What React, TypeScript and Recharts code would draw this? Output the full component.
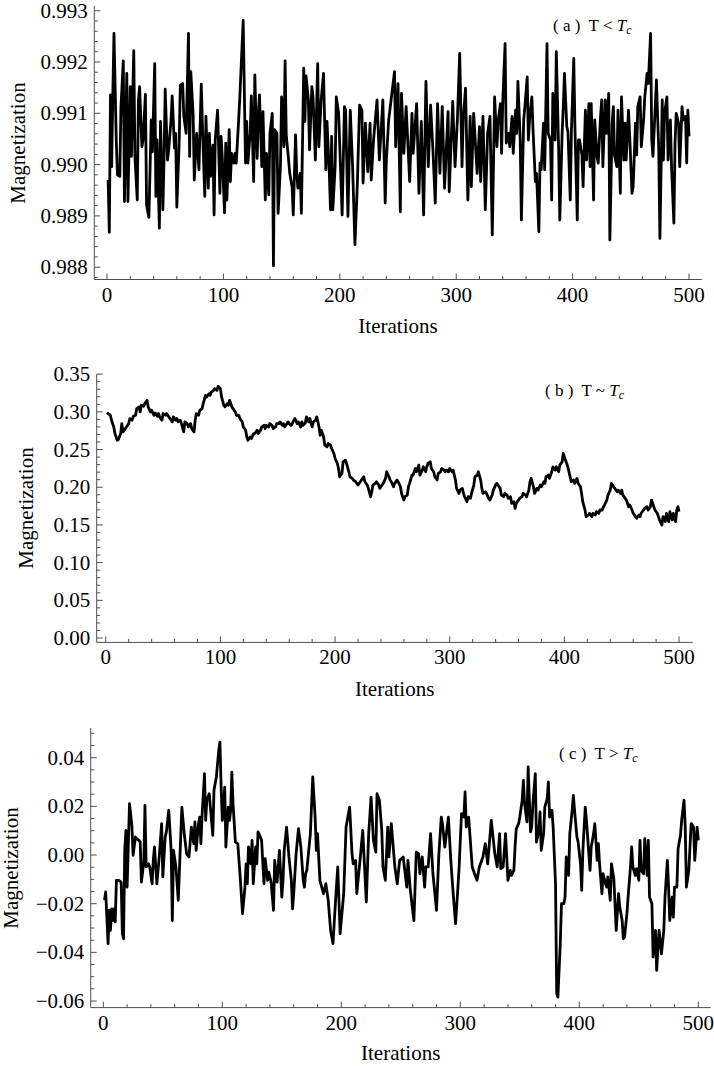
import React from 'react';
import { LineChart, Line, XAxis, YAxis } from 'recharts';

const SERIF = 'Liberation Serif, DejaVu Serif, serif';
const FRAME = '#4d4d4d';

// ---------- axis ticks ----------
const iterationTicks = [0, 20, 40, 60, 80, 100, 120, 140, 160, 180, 200, 220, 240, 260, 280, 300, 320, 340, 360, 380, 400, 420, 440, 460, 480, 500];
const iterationLabels = [0, 100, 200, 300, 400, 500];

const magTicksA = [0.9878, 0.988, 0.9882, 0.9884, 0.9886, 0.9888, 0.989, 0.9892, 0.9894, 0.9896, 0.9898, 0.99, 0.9902, 0.9904, 0.9906, 0.9908, 0.991, 0.9912, 0.9914, 0.9916, 0.9918, 0.992, 0.9922, 0.9924, 0.9926, 0.9928, 0.993];
const magLabelsA = [0.988, 0.989, 0.99, 0.991, 0.992, 0.993];

const magTicksB = [0, 0.01, 0.02, 0.03, 0.04, 0.05, 0.06, 0.07, 0.08, 0.09, 0.1, 0.11, 0.12, 0.13, 0.14, 0.15, 0.16, 0.17, 0.18, 0.19, 0.2, 0.21, 0.22, 0.23, 0.24, 0.25, 0.26, 0.27, 0.28, 0.29, 0.3, 0.31, 0.32, 0.33, 0.34, 0.35];
const magLabelsB = [0, 0.05, 0.1, 0.15, 0.2, 0.25, 0.3, 0.35];

const magTicksC = [-0.06, -0.055, -0.05, -0.045, -0.04, -0.035, -0.03, -0.025, -0.02, -0.015, -0.01, -0.005, 0, 0.005, 0.01, 0.015, 0.02, 0.025, 0.03, 0.035, 0.04, 0.045, 0.05];
const magLabelsC = [-0.06, -0.04, -0.02, 0, 0.02, 0.04];

// ---------- data: [iteration, magnetization] ----------
const panelA: [number, number][] = [
  [1, 0.9897], [2, 0.98868], [3, 0.99136], [4, 0.98996], [5, 0.99136], [6, 0.99256], [8, 0.99045], [9, 0.9898], [11, 0.98977], [12, 0.99113],
  [14, 0.99202], [15, 0.98928], [17, 0.99178], [18, 0.98928], [20, 0.99152], [21, 0.99016], [23, 0.99222], [24, 0.99016], [26, 0.98931], [27, 0.99126],
  [28, 0.99152], [30, 0.99035], [31, 0.99048], [33, 0.99137], [34, 0.98921], [36, 0.98897], [38, 0.99087], [39, 0.99025], [41, 0.99197], [42, 0.98938],
  [43, 0.99048], [45, 0.98876], [46, 0.99084], [48, 0.98912], [49, 0.99009], [50, 0.99147], [52, 0.99009], [53, 0.99029], [55, 0.99087], [56, 0.99134],
  [58, 0.99032], [59, 0.99061], [60, 0.98917], [62, 0.99042], [63, 0.99155], [65, 0.99158], [66, 0.99094], [68, 0.99061], [70, 0.99256], [71, 0.99016],
  [72, 0.99181], [74, 0.99097], [75, 0.9897], [77, 0.99061], [79, 0.9899], [81, 0.99157], [82, 0.99074], [84, 0.98938], [85, 0.99094], [87, 0.98954],
  [88, 0.99061], [89, 0.98977], [91, 0.99038], [92, 0.98902], [93, 0.99048], [95, 0.99106], [97, 0.98944], [98, 0.99055], [99, 0.99016], [101, 0.98906],
  [102, 0.99042], [103, 0.98931], [105, 0.99068], [106, 0.98967], [107, 0.99022], [109, 0.99003], [110, 0.99022], [111, 0.99003], [113, 0.99082], [114, 0.99126],
  [117, 0.99281], [119, 0.99003], [120, 0.99084], [121, 0.99003], [123, 0.99061], [124, 0.99134], [126, 0.98967], [127, 0.99175], [129, 0.99012], [130, 0.99094],
  [131, 0.99136], [133, 0.98996], [134, 0.99103], [136, 0.98931], [137, 0.99022], [139, 0.98941], [140, 0.99061], [142, 0.991], [143, 0.98803], [144, 0.99068],
  [146, 0.99061], [147, 0.98905], [149, 0.98996], [150, 0.99132], [152, 0.99035], [153, 0.99202], [154, 0.99058], [156, 0.99009], [157, 0.98983], [159, 0.98957],
  [160, 0.98902], [162, 0.99058], [163, 0.98983], [164, 0.98954], [166, 0.98983], [167, 0.98905], [169, 0.99188], [170, 0.99084],
  [171, 0.99173], [173, 0.99126], [174, 0.99029], [176, 0.99152], [177, 0.99132], [179, 0.99009], [181, 0.99197], [182, 0.99035], [184, 0.99126], [186, 0.99178],
  [188, 0.9899], [189, 0.99084], [191, 0.98983], [192, 0.98912], [193, 0.99055], [194, 0.98912], [196, 0.98996], [197, 0.99132], [199, 0.991], [202, 0.98902],
  [204, 0.99113], [205, 0.99106], [207, 0.98899], [209, 0.99106], [211, 0.98996], [213, 0.98844], [215, 0.98957], [217, 0.99116], [219, 0.99106], [220, 0.98964],
  [222, 0.99081], [224, 0.98986], [226, 0.99081], [227, 0.9897], [229, 0.99048], [232, 0.99126], [234, 0.99009], [237, 0.99126], [239, 0.98925], [240, 0.99009],
  [242, 0.99087], [243, 0.99106], [247, 0.99181], [248, 0.99035], [250, 0.99158], [252, 0.98908], [253, 0.99139], [255, 0.99022], [257, 0.99113], [260, 0.98967],
  [262, 0.991], [263, 0.99022], [266, 0.99119], [268, 0.98944], [270, 0.99084], [272, 0.98902], [274, 0.99162], [276, 0.98996], [278, 0.99116], [280, 0.99029],
  [282, 0.98925], [284, 0.99119], [286, 0.98983], [288, 0.99113], [290, 0.98954], [293, 0.99103], [294, 0.98947], [297, 0.99123], [299, 0.98996], [301, 0.99087],
  [303, 0.99217], [305, 0.98996], [306, 0.99087], [308, 0.99149], [310, 0.98931], [312, 0.99094], [313, 0.98957], [315, 0.991], [318, 0.98983], [320, 0.99074],
  [321, 0.98967], [323, 0.99094], [325, 0.98912], [327, 0.99061], [329, 0.99094], [331, 0.98863], [333, 0.99132], [335, 0.99035], [336, 0.99084], [338, 0.99119],
  [339, 0.99022], [340, 0.99123], [342, 0.99236], [343, 0.99042], [345, 0.99061],
  [346, 0.99035], [348, 0.99094], [349, 0.99022], [351, 0.99106], [352, 0.99061], [353, 0.99162], [355, 0.99048], [356, 0.98892], [358, 0.99087], [359, 0.99113],
  [361, 0.99171], [362, 0.99048], [363, 0.99087], [365, 0.99132], [366, 0.99068], [368, 0.98967], [369, 0.98983], [371, 0.98869], [372, 0.99003], [373, 0.9899],
  [375, 0.99081], [376, 0.9899], [378, 0.99236], [379, 0.99061], [381, 0.99048], [382, 0.98931], [383, 0.99139], [385, 0.99048], [386, 0.9922], [388, 0.99029],
  [389, 0.98892], [391, 0.99061], [392, 0.99113], [393, 0.99178], [395, 0.99074], [396, 0.99064], [398, 0.98931], [399, 0.99068], [401, 0.99207], [402, 0.99074],
  [404, 0.98892], [405, 0.99048], [406, 0.99048], [408, 0.99019], [409, 0.98957], [411, 0.99106], [412, 0.99009], [414, 0.99119], [415, 0.98996], [416, 0.99119],
  [418, 0.98931], [419, 0.99087], [421, 0.99016], [422, 0.99003], [424, 0.99094], [425, 0.99126], [426, 0.98996], [428, 0.99126], [429, 0.99061], [431, 0.99139],
  [432, 0.98853], [434, 0.99081], [435, 0.99113], [436, 0.99019], [438, 0.98996], [439, 0.99106], [441, 0.98944], [442, 0.99132], [444, 0.99009], [445, 0.99081],
  [446, 0.99009], [448, 0.99106], [449, 0.99058], [451, 0.98944], [452, 0.98957], [454, 0.99081], [455, 0.99019], [456, 0.99113], [458, 0.99132], [459, 0.99035],
  [461, 0.99087], [462, 0.99132], [464, 0.99178], [465, 0.99158], [467, 0.99256], [468, 0.99048], [469, 0.99016], [471, 0.99113], [472, 0.99165], [474, 0.99029],
  [475, 0.98856], [477, 0.99126], [478, 0.99009], [479, 0.991], [481, 0.99132], [482, 0.99009], [484, 0.99087], [485, 0.98996], [487, 0.98886], [488, 0.99042],
  [489, 0.991], [491, 0.99081], [492, 0.98996], [494, 0.99113], [495, 0.99087], [497, 0.99094], [498, 0.99003], [499, 0.99106], [500, 0.99055],
];

const panelB: [number, number][] = [
  [1, 0.2986], [2, 0.2977], [4, 0.2955], [5, 0.2889], [7, 0.28], [8, 0.2712], [10, 0.2624], [11, 0.2633], [13, 0.2712], [14, 0.2844],
  [15, 0.2734], [17, 0.2778], [18, 0.28], [20, 0.2844], [21, 0.2911], [23, 0.2889], [24, 0.2941], [26, 0.2955], [27, 0.3043], [29, 0.3065],
  [30, 0.2999], [31, 0.3087], [33, 0.3074], [34, 0.3109], [36, 0.3153], [37, 0.3065], [39, 0.2999], [40, 0.3021], [42, 0.2955], [43, 0.2986],
  [45, 0.2941], [46, 0.2977], [47, 0.2933], [49, 0.2889], [50, 0.2977], [52, 0.2955], [53, 0.2977], [55, 0.2933], [56, 0.2911], [58, 0.2867],
  [59, 0.2933], [61, 0.2889], [62, 0.2911], [63, 0.2867], [65, 0.2889], [66, 0.2844], [68, 0.2734], [69, 0.2867], [71, 0.2844], [72, 0.28],
  [74, 0.2844], [75, 0.2778], [77, 0.2734], [78, 0.2889], [79, 0.2977], [81, 0.2955], [82, 0.3021], [84, 0.3043], [85, 0.3109], [87, 0.3219],
  [88, 0.3197], [90, 0.3241], [91, 0.3219], [92, 0.3263], [94, 0.3285], [95, 0.3308], [97, 0.3285], [98, 0.3338], [100, 0.3308], [101, 0.3197],
  [103, 0.3087], [104, 0.3065], [106, 0.3109], [107, 0.3087], [108, 0.3153], [110, 0.3065], [111, 0.3043], [113, 0.2999], [114, 0.2955], [116, 0.2955],
  [117, 0.2911], [119, 0.2867], [120, 0.28], [122, 0.2756], [123, 0.2668], [124, 0.2624], [126, 0.2668], [127, 0.2646], [129, 0.2712], [130, 0.2712],
  [132, 0.2756], [133, 0.2712], [135, 0.2756], [136, 0.28], [138, 0.2822], [139, 0.2778], [140, 0.2822], [142, 0.28], [143, 0.2844], [145, 0.2822],
  [146, 0.2778], [148, 0.28], [149, 0.2844], [151, 0.2844], [152, 0.2867], [154, 0.2822], [155, 0.2844], [156, 0.28], [158, 0.2844], [159, 0.2867],
  [161, 0.2822], [162, 0.2822], [164, 0.2889], [165, 0.2911], [167, 0.2844], [168, 0.2867], [170, 0.28], [171, 0.2867], [172, 0.2822], [174, 0.2853],
  [175, 0.2933], [177, 0.2867], [178, 0.2911], [180, 0.28], [181, 0.2867], [183, 0.2889], [184, 0.2933], [186, 0.28], [187, 0.269], [188, 0.2756],
  [190, 0.2668], [191, 0.2558], [193, 0.2536], [194, 0.258], [196, 0.2558], [197, 0.2514], [199, 0.2448], [200, 0.2381], [202, 0.2315], [203, 0.2249],
  [204, 0.2139], [206, 0.2183], [207, 0.2337], [209, 0.2359], [210, 0.2315], [212, 0.2205], [213, 0.2139], [215, 0.2117], [216, 0.2095], [218, 0.2073],
  [219, 0.2051], [220, 0.2029], [222, 0.2073], [223, 0.2095], [225, 0.2139], [226, 0.2073], [228, 0.2029], [229, 0.1985], [231, 0.1874], [232, 0.194],
  [233, 0.2029], [235, 0.2051], [236, 0.2073], [238, 0.2029], [239, 0.1985], [241, 0.2029], [242, 0.2051], [244, 0.2117], [245, 0.2205], [247, 0.2139],
  [248, 0.2095], [249, 0.2073], [251, 0.2007], [252, 0.2051], [254, 0.2095], [255, 0.2073], [257, 0.2007], [258, 0.1918], [260, 0.183], [261, 0.1874],
  [263, 0.1896], [264, 0.2007], [265, 0.2051], [267, 0.2161], [268, 0.2161], [270, 0.2249], [271, 0.2205], [273, 0.2293], [274, 0.2161], [276, 0.2227],
  [277, 0.2271], [279, 0.2205], [280, 0.2271], [281, 0.2315], [283, 0.2337], [284, 0.2249], [286, 0.2205], [287, 0.2139], [289, 0.2095], [290, 0.2183],
  [292, 0.2205], [293, 0.2249], [295, 0.2227], [296, 0.2205], [297, 0.2227], [299, 0.2205], [300, 0.2249], [302, 0.2205], [303, 0.2227], [305, 0.2095],
  [306, 0.1985], [308, 0.1918], [309, 0.1962], [311, 0.1985], [312, 0.1918], [313, 0.1874], [315, 0.1808], [316, 0.1874], [318, 0.1852], [319, 0.1918],
  [321, 0.2029], [322, 0.2139], [324, 0.2161], [325, 0.2205], [327, 0.2095], [328, 0.1985], [329, 0.1918], [331, 0.194], [332, 0.1918], [334, 0.1852],
  [335, 0.183], [337, 0.1896], [338, 0.1962], [340, 0.2029], [341, 0.2051], [343, 0.2007], [344, 0.1985], [345, 0.1896], [347, 0.1874], [348, 0.1918],
  [350, 0.1896], [351, 0.1852], [353, 0.1874],
  [354, 0.1786], [356, 0.1808], [357, 0.172], [358, 0.1786], [360, 0.183], [361, 0.1852], [363, 0.1874], [364, 0.1918], [366, 0.1896], [367, 0.1874],
  [369, 0.1962], [370, 0.2073], [371, 0.2117], [373, 0.2007], [374, 0.1918], [376, 0.1985], [377, 0.1962], [379, 0.2029], [380, 0.2007], [382, 0.2073],
  [383, 0.2051], [384, 0.2139], [386, 0.2161], [387, 0.2117], [389, 0.2205], [390, 0.2271], [392, 0.2227], [393, 0.2271], [395, 0.2205], [396, 0.2293],
  [398, 0.2337], [399, 0.2448], [400, 0.2403], [402, 0.2315], [403, 0.2271], [405, 0.2139], [406, 0.2073], [408, 0.2095], [409, 0.2051], [411, 0.2117],
  [412, 0.2051], [414, 0.2007], [415, 0.1918], [416, 0.1808], [418, 0.1698], [419, 0.161], [421, 0.1632], [422, 0.1654], [424, 0.161], [425, 0.1654],
  [427, 0.1632], [428, 0.1676], [430, 0.1654], [431, 0.1698], [433, 0.1698], [434, 0.1742], [435, 0.1764], [437, 0.183], [438, 0.1896], [440, 0.1962],
  [441, 0.2051], [443, 0.2007], [444, 0.1985], [446, 0.194], [447, 0.1962], [449, 0.1918], [450, 0.1962], [451, 0.1896], [453, 0.1852], [454, 0.183],
  [456, 0.1742], [457, 0.1764], [459, 0.1698], [460, 0.1654], [462, 0.161], [463, 0.1588], [465, 0.1632], [466, 0.161], [467, 0.1654], [469, 0.1698],
  [470, 0.172], [472, 0.1742], [473, 0.1698], [475, 0.1742], [476, 0.183], [478, 0.1742], [479, 0.1698], [481, 0.1654], [482, 0.161], [483, 0.1566],
  [485, 0.1499], [486, 0.161], [488, 0.1544], [489, 0.1654], [491, 0.1544], [492, 0.1676], [494, 0.1566], [495, 0.1654], [497, 0.1544], [498, 0.1698],
  [499, 0.1742], [500, 0.1676],
];

const panelC: [number, number][] = [
  [1, -0.0186], [2, -0.0152], [4, -0.0364], [5, -0.0227], [6, -0.031], [7, -0.0221], [8, -0.0269], [9, -0.0221], [10, -0.0275], [11, -0.0104],
  [13, -0.0104], [15, -0.0111], [16, -0.0323], [17, -0.0344], [18, 0.0019], [19, 0.0101], [20, -0.0132], [22, 0.0211], [24, 0.0122], [25, -0.0001],
  [27, 0.0074], [28, 0.0067], [30, 0.006], [31, 0.0053], [32, -0.0111], [34, -0.0029], [35, 0.0204], [36, -0.0049], [38, -0.0036], [39, -0.0049],
  [41, -0.0118], [42, -0.0022], [43, 0.0033], [45, -0.0118], [47, -0.0008], [49, 0.0129], [50, -0.009], [52, 0.0074], [53, 0.0095], [55, 0.0184],
  [57, 0.0019], [58, -0.0269], [59, 0.0019], [61, -0.0049], [63, -0.0186], [66, 0.0197], [68, 0.0088], [70, 0.0005], [72, -0.0008], [74, 0.0115],
  [76, 0.0047], [77, 0.0136], [78, 0.0019], [80, 0.0129], [81, 0.0156], [82, 0.0047], [83, 0.0163], [85, 0.0334], [86, 0.0142], [87, 0.0225],
  [89, 0.0252], [92, 0.0081], [93, 0.0266], [95, 0.0321], [97, 0.043], [98, 0.0464], [99, 0.0279], [100, 0.0142], [102, 0.0279], [103, 0.0033],
  [105, 0.0197], [106, 0.0142], [107, 0.0184], [108, 0.0341], [109, 0.0211], [111, 0.0053], [113, 0.0047], [115, -0.009], [117, -0.0241], [119, -0.0132],
  [120, -0.0036], [121, -0.0118], [122, 0.0033], [124, -0.0036], [125, 0.006], [126, -0.0118], [128, 0.0033], [129, -0.0036], [130, 0.0095], [132, 0.0074],
  [133, 0.006], [135, -0.0118], [136, -0.0015], [138, -0.0104], [139, -0.007], [141, -0.0111], [143, -0.0227], [144, -0.0022], [146, -0.0111], [148, 0.0019],
  [150, -0.0173], [151, -0.0104], [152, 0.0019], [154, 0.0115], [156, -0.0008], [158, -0.0104], [159, -0.0221], [160, -0.0159], [162, 0.0005], [164, 0.0108],
  [166, 0.0033], [168, -0.0104], [169, -0.0132],
  [170, -0.0077], [171, -0.0063], [174, 0.0088], [176, 0.0321], [178, 0.0156], [179, 0.0019], [180, 0.0088], [182, -0.0104], [185, -0.0159], [187, -0.0118],
  [189, -0.0186], [191, -0.031], [193, -0.0364], [195, -0.02], [197, -0.0049], [199, -0.0323], [202, -0.0159], [204, 0.0115], [207, 0.0197], [209, 0.0005],
  [210, -0.0036], [212, -0.0022], [213, -0.0159], [216, -0.0008], [218, 0.0101], [221, -0.0193], [223, 0.0088], [225, 0.0238], [227, 0.006], [229, 0.0012],
  [230, 0.0252], [232, 0.0225], [234, 0.0101], [235, -0.0049], [237, -0.0104], [239, 0.0115], [240, -0.0008], [242, 0.0129], [245, -0.0049], [247, -0.0118],
  [249, -0.0022], [252, -0.0008], [255, -0.0132], [256, -0.0022], [258, -0.0145], [261, -0.0269], [263, 0.0012], [265, 0.0005], [266, -0.0077], [268, -0.0008],
  [270, -0.0132], [271, -0.0049], [273, -0.0049], [275, 0.0088], [277, -0.0077], [280, -0.0227], [282, 0.0005], [284, 0.0156], [285, 0.0129], [287, 0.0033],
  [290, 0.0156], [292, -0.0022], [294, -0.0159], [296, -0.0282], [298, -0.0132], [299, -0.0049], [301, 0.017], [303, 0.0156], [304, 0.0259], [305, 0.0115],
  [307, 0.0156], [310, -0.0049], [312, -0.0077], [314, -0.0104], [316, -0.0049], [319, -0.0008], [321, 0.0047], [323, -0.0036], [326, 0.0142], [329, 0.0005],
  [331, -0.0049], [333, 0.0088], [334, -0.0056], [336, -0.0049], [338, 0.0088], [340, -0.0104],
  [342, -0.0063], [343, -0.0084], [345, -0.0063], [346, 0.0033], [347, 0.0108], [349, 0.0129], [350, 0.0156], [352, 0.0225], [353, 0.0307], [354, 0.0211],
  [356, 0.0136], [357, 0.0362], [359, 0.0095], [360, 0.0115], [361, 0.0211], [363, 0.0334], [364, 0.0053], [366, 0.0101], [367, 0.0177], [368, 0.0019],
  [370, 0.0088], [371, 0.0197], [373, 0.0232], [374, 0.03], [375, 0.0156], [377, 0.0184], [378, 0.0115], [380, -0.0118], [381, -0.057], [382, -0.0584],
  [384, -0.0364], [385, -0.02], [387, -0.02], [388, -0.0173], [389, -0.0008], [391, -0.0084], [392, 0.0088], [394, 0.0184], [395, 0.0245], [396, 0.0184],
  [398, 0.0074], [399, 0.0053], [401, -0.0036], [402, -0.0145], [403, 0.0019], [405, 0.0197], [406, 0.0142], [408, 0.0005], [409, -0.0063], [410, 0.0033],
  [412, 0.0088], [413, 0.0129], [415, -0.0022], [416, 0.0047], [417, -0.0036], [419, -0.0159], [420, -0.0077], [422, -0.0118], [423, -0.0132], [424, -0.009],
  [426, -0.0186], [427, -0.0036], [429, -0.0097], [430, -0.02], [431, -0.031], [433, -0.0159], [434, -0.0214], [436, -0.0269], [437, -0.0344], [438, -0.0337],
  [440, -0.0241], [441, -0.0173], [443, -0.0049], [444, 0.0033], [445, -0.0049], [447, -0.0084], [448, -0.0056], [450, -0.0104], [451, 0.006], [452, -0.0063],
  [454, -0.0077], [455, 0.0067], [457, -0.0084], [458, 0.006], [459, -0.0173], [461, -0.02], [462, -0.0419], [464, -0.031], [465, -0.0474], [467, -0.031],
  [468, -0.0351], [469, -0.0406], [471, -0.031], [472, -0.0173], [474, -0.0022], [475, -0.0132], [476, -0.0269], [478, -0.0173], [479, -0.0255], [480, -0.0132],
  [482, -0.0132], [483, 0.0026], [485, 0.0081], [486, 0.0142], [488, 0.0225], [489, 0.0115], [490, -0.0132], [492, -0.0063], [493, 0.0033], [494, 0.0129],
  [496, 0.0115], [497, -0.0022], [499, 0.0115], [500, 0.006],
];

// ---------- tick renderers (inward ticks like a framed plot) ----------
const MAJOR = 6;
const MINOR = 3.5;
const isMajor = (v: number, list: number[]) => list.some((m) => Math.abs(m - v) < 1e-7);

const fmtA = (v: number) => v.toFixed(3);
const fmtB = (v: number) => v.toFixed(2);
const fmtC = (v: number) => (v < -1e-9 ? '\u2212' : '') + Math.abs(v).toFixed(2);

const textStyle = { fontFamily: SERIF };

function makeBottomTick(labels: number[]) {
  return (props: any) => {
    const { x, y, payload } = props;
    const major = isMajor(payload.value, labels);
    return (
      <g>
        <line x1={x} y1={y} x2={x} y2={y - (major ? MAJOR : MINOR)} stroke={FRAME} strokeWidth={1} />
        {major && (
          <text x={x} y={y + 22} textAnchor="middle" fontSize={21} fontFamily={SERIF} style={textStyle} fill="#000">
            {String(payload.value)}
          </text>
        )}
      </g>
    );
  };
}
function makeTopTick(labels: number[]) {
  return (props: any) => {
    const { x, y, payload } = props;
    const major = isMajor(payload.value, labels);
    return <line x1={x} y1={y} x2={x} y2={y + (major ? MAJOR : MINOR)} stroke={FRAME} strokeWidth={1} />;
  };
}
function makeLeftTick(labels: number[], fmt: (v: number) => string) {
  return (props: any) => {
    const { x, y, payload } = props;
    const major = isMajor(payload.value, labels);
    return (
      <g>
        <line x1={x} y1={y} x2={x + (major ? MAJOR : MINOR)} y2={y} stroke={FRAME} strokeWidth={1} />
        {major && (
          <text x={x - 6.5} y={y + 7} textAnchor="end" fontSize={21} fontFamily={SERIF} style={textStyle} fill="#000">
            {fmt(payload.value)}
          </text>
        )}
      </g>
    );
  };
}
function makeRightTick(labels: number[]) {
  return (props: any) => {
    const { x, y, payload } = props;
    const major = isMajor(payload.value, labels);
    return <line x1={x} y1={y} x2={x - (major ? MAJOR : MINOR)} y2={y} stroke={FRAME} strokeWidth={1} />;
  };
}

type PanelProps = {
  top: number;
  height: number;
  mTop: number;
  points: [number, number][];
  xDomain: [number, number];
  yDomain: [number, number];
  yTicks: number[];
  yLabels: number[];
  fmt: (v: number) => string;
  leftW: number;
  rightM: number;
  bottomH: number;
};

function Panel(p: PanelProps) {
  const data = p.points.map(([i, m]) => ({ i, m }));
  const axisLine = { stroke: FRAME, strokeWidth: 1 };
  return (
    <div style={{ position: 'absolute', left: 0, top: p.top }}>
      <LineChart width={714} height={p.height} data={data} margin={{ top: p.mTop, right: p.rightM, bottom: 0, left: 0 }}>
        <XAxis
          xAxisId="b"
          dataKey="i"
          type="number"
          orientation="bottom"
          domain={p.xDomain}
          allowDataOverflow
          ticks={iterationTicks}
          interval={0}
          height={p.bottomH}
          tickLine={false}
          tickSize={0}
          tickMargin={0}
          axisLine={axisLine}
          tick={makeBottomTick(iterationLabels)}
        />
        <XAxis
          xAxisId="t"
          type="number"
          orientation="top"
          domain={p.xDomain}
          allowDataOverflow
          ticks={iterationTicks}
          interval={0}
          height={0}
          tickLine={false}
          tickSize={0}
          tickMargin={0}
          axisLine={axisLine}
          tick={makeTopTick(iterationLabels)}
        />
        <YAxis
          yAxisId="l"
          type="number"
          orientation="left"
          domain={p.yDomain}
          allowDataOverflow
          ticks={p.yTicks}
          interval={0}
          width={p.leftW}
          tickLine={false}
          tickSize={0}
          tickMargin={0}
          axisLine={axisLine}
          tick={makeLeftTick(p.yLabels, p.fmt)}
        />
        <YAxis
          yAxisId="r"
          type="number"
          orientation="right"
          domain={p.yDomain}
          allowDataOverflow
          ticks={p.yTicks}
          interval={0}
          width={0}
          tickLine={false}
          tickSize={0}
          tickMargin={0}
          axisLine={axisLine}
          tick={makeRightTick(p.yLabels)}
        />
        <Line
          xAxisId="b"
          yAxisId="l"
          type="linear"
          dataKey="m"
          stroke="#000"
          strokeWidth={2.8}
          strokeLinejoin="round"
          dot={false}
          activeDot={false}
          isAnimationActive={false}
        />
      </LineChart>
    </div>
  );
}

function PanelTag({ x, y, letter, rel }: { x: number; y: number; letter: string; rel: string }) {
  return (
    <text x={x} y={y} fontSize={17} fontFamily={SERIF} fill="#000" style={{ whiteSpace: 'pre', fontFamily: SERIF }}>
      {`( ${letter} )  T ${rel} `}
      <tspan fontStyle="italic">T</tspan>
      <tspan fontStyle="italic" fontSize={12} dy={3}>c</tspan>
    </text>
  );
}

function YTitle({ x, cy }: { x: number; cy: number }) {
  return (
    <text transform={`translate(${x},${cy}) rotate(-90)`} textAnchor="middle" fontSize={21} fontFamily={SERIF} style={textStyle} fill="#000">
      Magnetization
    </text>
  );
}

function XTitle({ cx, y }: { cx: number; y: number }) {
  return (
    <text x={cx} y={y} textAnchor="middle" fontSize={21} fontFamily={SERIF} style={textStyle} fill="#000">
      Iterations
    </text>
  );
}

export default function App() {
  return (
    <div style={{ position: 'absolute', left: 0, top: 0, width: 714, height: 1066, background: '#fff', overflow: 'hidden', fontFamily: SERIF }}>
      <Panel
        top={0}
        height={340}
        mTop={6}
        points={panelA}
        xDomain={[-10.9, 510.9]}
        yDomain={[0.98776, 0.993092]}
        yTicks={magTicksA}
        yLabels={magLabelsA}
        fmt={fmtA}
        leftW={94.3}
        rightM={12.3}
        bottomH={60.5}
      />
      <Panel
        top={354.3}
        height={348.4}
        mTop={20}
        points={panelB}
        xDomain={[-7.9, 511.9]}
        yDomain={[-0.0058, 0.3502]}
        yTicks={magTicksB}
        yLabels={magLabelsB}
        fmt={fmtB}
        leftW={96.7}
        rightM={21.3}
        bottomH={60}
      />
      <Panel
        top={707.7}
        height={357.6}
        mTop={20}
        points={panelC}
        xDomain={[-10.6, 510.4]}
        yDomain={[-0.0627, 0.0522]}
        yTicks={magTicksC}
        yLabels={magLabelsC}
        fmt={fmtC}
        leftW={90.7}
        rightM={3.3}
        bottomH={58}
      />
      <svg width={714} height={1066} style={{ position: 'absolute', left: 0, top: 0, pointerEvents: 'none' }}>
        <PanelTag x={553} y={31} letter="a" rel="<" />
        <PanelTag x={545} y={396} letter="b" rel="~" />
        <PanelTag x={559} y={759} letter="c" rel=">" />
        <YTitle x={25} cy={143} />
        <YTitle x={33} cy={508} />
        <YTitle x={18} cy={868} />
        <XTitle cx={398} y={332.5} />
        <XTitle cx={394.7} y={696} />
        <XTitle cx={400.7} y={1060} />
      </svg>
    </div>
  );
}
